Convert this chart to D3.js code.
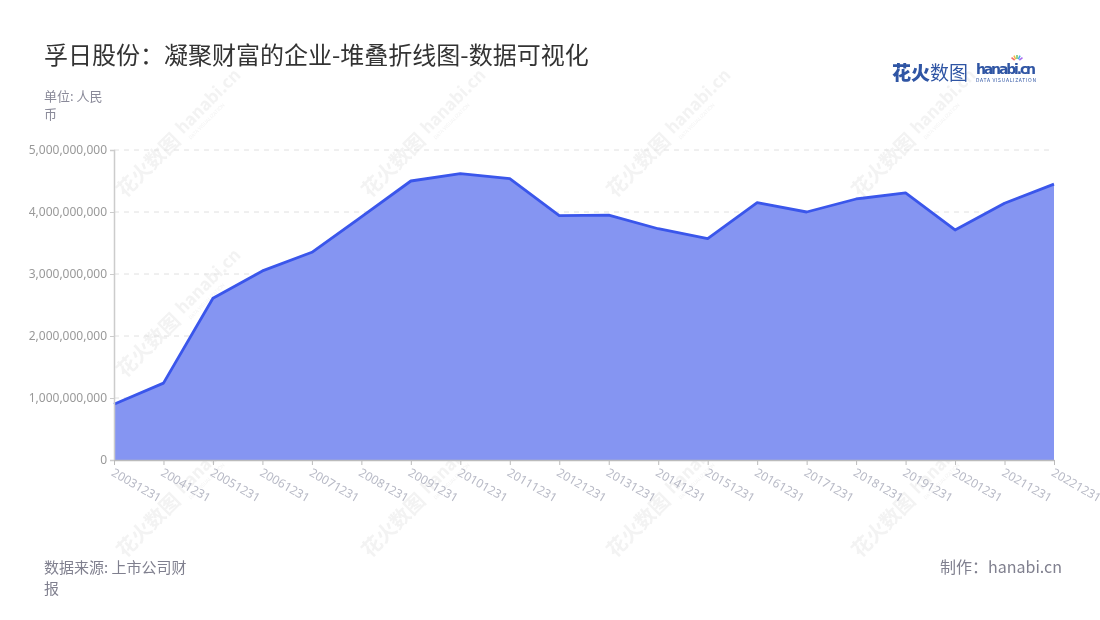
<!DOCTYPE html>
<html><head><meta charset="utf-8">
<script src="https://cdn.jsdelivr.net/npm/d3@7/dist/d3.min.js"></script>
<style>
html,body{margin:0;padding:0;background:#fff;}
svg{display:block;font-family:"Noto Sans CJK SC","Noto Sans",sans-serif;}
</style></head>
<body><svg id="c" width="1100" height="620"></svg>
<script>
const categories = ["20031231","20041231","20051231","20061231","20071231","20081231","20091231","20101231","20111231","20121231","20131231","20141231","20151231","20161231","20171231","20181231","20191231","20201231","20211231","20221231"];
const values = [0.90e9,1.24e9,2.61e9,3.05e9,3.35e9,3.92e9,4.50e9,4.62e9,4.54e9,3.94e9,3.95e9,3.73e9,3.57e9,4.15e9,4.00e9,4.21e9,4.31e9,3.71e9,4.14e9,4.45e9];
const yTicks = [0,1e9,2e9,3e9,4e9,5e9];
const titleText = "孚日股份：凝聚财富的企业-堆叠折线图-数据可视化";
const unitText = ["单位: 人民","币"];
const sourceText = ["数据来源: 上市公司财","报"];
const makerText = "制作：hanabi.cn";

const svg = d3.select("#c");
const m = {l:114, r:1054, t:150, b:460};
const x = d3.scalePoint().domain(categories).range([m.l, m.r]);
const y = d3.scaleLinear().domain([0,5e9]).range([m.b, m.t]);

// watermarks
const wm = svg.append("g").attr("opacity",0.4);
[183,428,673,918].forEach(cx=>{
  [132,312,492].forEach(cy=>{
    const g = wm.append("g").attr("transform",`translate(${cx},${cy}) rotate(-45)`);
    g.append("text").attr("x",-8).attr("y",6).attr("text-anchor","end")
      .attr("font-size",20).attr("font-weight",700).attr("fill","#e0e0e0").text("花火数图");
    g.append("text").attr("x",-2).attr("y",2).attr("text-anchor","start")
      .attr("font-size",17).attr("font-weight",700).attr("fill","#e0e0e0").text("hanabi.cn");
    g.append("text").attr("x",0).attr("y",11).attr("text-anchor","start")
      .attr("font-size",5).attr("fill","#e0e0e0").text("DATA VISUALIZATION");
  });
});

// grid
svg.append("g").selectAll("line").data(yTicks.slice(1)).join("line")
  .attr("x1",m.l).attr("x2",m.r).attr("y1",d=>y(d)).attr("y2",d=>y(d))
  .attr("stroke","#e0e0e0").attr("stroke-dasharray","5,5");

// area
const area = d3.area().x((d,i)=>x(categories[i])).y0(y(0)).y1(d=>y(d));
svg.append("path").datum(values).attr("d",area).attr("fill","#8595f2");
const line = d3.line().x((d,i)=>x(categories[i])).y(d=>y(d));
svg.append("path").datum(values).attr("d",line).attr("fill","none")
  .attr("stroke","#3a56eb").attr("stroke-width",2.8).attr("stroke-linejoin","round");

// y axis
const fmt = d3.format(",");
const ya = svg.append("g").attr("transform",`translate(${m.l},0)`)
  .call(d3.axisLeft(y).tickValues(yTicks).tickFormat(d=>fmt(d)).tickSize(4).tickPadding(3));
ya.select(".domain").attr("stroke","#ccc").attr("stroke-width",1.5);
ya.selectAll(".tick line").attr("stroke","#ccc");
ya.selectAll(".tick text").attr("fill","#999").attr("font-size",12).attr("font-family","'Noto Sans',sans-serif");

// x axis
const xa = svg.append("g").attr("transform",`translate(0,${m.b})`)
  .call(d3.axisBottom(x).tickSize(5).tickSizeOuter(0));
xa.select(".domain").attr("stroke","#bbb").attr("stroke-width",1.5);
xa.selectAll(".tick line").attr("stroke","#bbb");
xa.selectAll(".tick text").attr("fill","#b8bac6").attr("font-size",12)
  .attr("font-family","'Noto Sans',sans-serif")
  .attr("text-anchor","start").attr("dy",0).attr("y",0)
  .attr("transform","translate(-4,15) rotate(30)");

// title
svg.append("text").attr("x",44).attr("y",64).attr("font-size",24).attr("fill","#333").text(titleText);
svg.append("g").selectAll("text").data(unitText).join("text")
  .attr("x",44).attr("y",(d,i)=>101+i*18).attr("font-size",13).attr("fill","#8a8a99").text(d=>d);
svg.append("g").selectAll("text").data(sourceText).join("text")
  .attr("x",44).attr("y",(d,i)=>573+i*21).attr("font-size",15).attr("fill","#80808f").text(d=>d);
svg.append("text").attr("x",1062).attr("y",573).attr("text-anchor","end")
  .attr("font-size",16).attr("fill","#80808f").text(makerText);

// logo
const lg = svg.append("g");
lg.append("text").attr("x",892).attr("y",80).attr("font-size",19).attr("font-weight",900).attr("fill","#2f55a4").text("花火");
lg.append("text").attr("x",930).attr("y",80).attr("font-size",19).attr("fill","#2f55a4").text("数图");
lg.append("text").attr("x",976).attr("y",74).attr("font-size",14).attr("font-weight",700).attr("fill","#2f55a4")
  .attr("font-family","'DejaVu Sans',sans-serif").attr("textLength",60).text("hanabi.cn");
lg.append("text").attr("x",976).attr("y",82).attr("font-size",5).attr("fill","#2f55a4")
  .attr("textLength",60).text("DATA VISUALIZATION");
["#f26b6b","#f5b942","#6bc46b","#4aa8f0","#a66bf0"].forEach((c,i)=>{
  const a = -Math.PI/2 + (i-2)*0.45;
  lg.append("line").attr("x1",1017+Math.cos(a)*3).attr("y1",62+Math.sin(a)*3)
    .attr("x2",1017+Math.cos(a)*7).attr("y2",62+Math.sin(a)*7)
    .attr("stroke",c).attr("stroke-width",1.5);
});
</script></body></html>
